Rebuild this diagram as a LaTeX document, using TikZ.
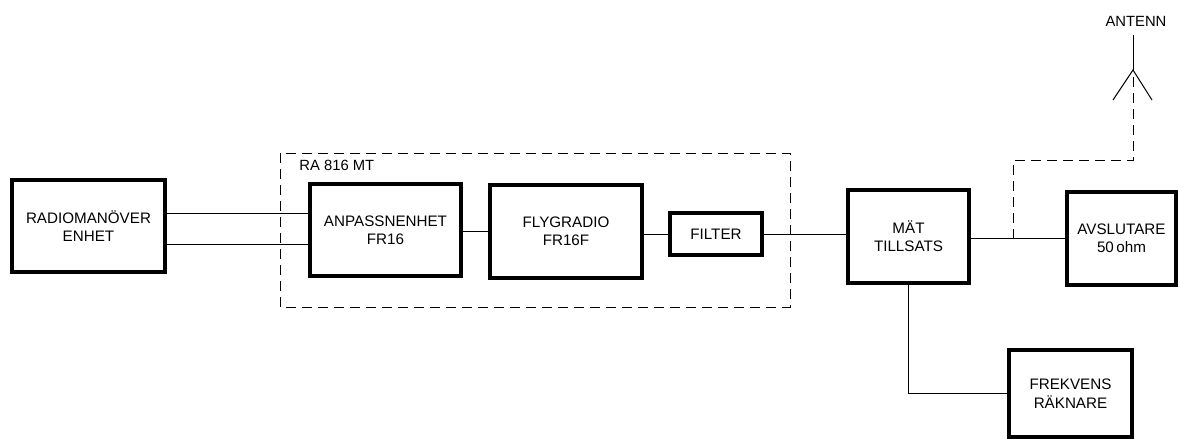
\documentclass[tikz,border=0pt]{standalone}
\usepackage{fontspec}
\setmainfont{Liberation Sans}
\begin{document}
\begin{tikzpicture}[x=0.5pt,y=-0.5pt,
  blk/.style={draw,line width=1.8pt,rectangle,inner sep=0pt,align=center,font=\fontsize{7.6}{9.2}\selectfont},
  wire/.style={line width=0.5pt},
  dwire/.style={line width=0.5pt,dash pattern=on 5pt off 3pt},
  lbl/.style={font=\fontsize{7.4}{8}\selectfont,inner sep=0pt}]
\useasboundingbox (0,0) rectangle (1180,439);
\node[blk,minimum width=76.5pt,minimum height=46pt] (rm) at (88.5,226) {RADIOMANÖVER\\ENHET};
\node[blk,minimum width=75.5pt,minimum height=46pt] (ap) at (385.5,230) {ANPASSNENHET\\FR16};
\node[blk,minimum width=76pt,minimum height=46.5pt] (fg) at (566,231.5) {FLYGRADIO\\FR16F};
\node[blk,minimum width=46pt,minimum height=21pt] (fi) at (716,234) {FILTER};
\node[blk,minimum width=60.5pt,minimum height=46.5pt] (mt) at (908.5,236.5) {MÄT\\TILLSATS};
\node[blk,minimum width=54.5pt,minimum height=46.5pt] (av) at (1121.5,238.5) {AVSLUTARE\\50\,ohm};
\node[blk,minimum width=61.5pt,minimum height=43.5pt] (fr) at (1070.5,393.5) {FREKVENS\\RÄKNARE};
% dashed enclosure
\draw[dwire] (280,153) rectangle (790,307);
\node[lbl,anchor=west] (ra) at (299,165) {RA 816 MT};
% connectors
\coordinate (ya) at (0,213);
\coordinate (yb) at (0,244);
\draw[wire] (rm.east |- ya) -- (ap.west |- ya);
\draw[wire] (rm.east |- yb) -- (ap.west |- yb);
\draw[wire] (ap.east |- fg.west) -- (fg.west);
\draw[wire] (fg.east |- fi.west) -- (fi.west);
\draw[wire] (fi.east) -- (mt.west |- fi.east);
\draw[wire] (mt.east |- av.west) -- (av.west);
\coordinate (br) at (1013,238.5);
\draw[wire] (mt.south) |- (fr.west);
% antenna
\coordinate (apex) at (1133,70);
\coordinate (atop) at (1133,35);
\coordinate (al) at (1113,100);
\coordinate (ar) at (1152,100);
\draw[dwire] (br) -- (1013,160) -- (1133,160) -- (apex);
\draw[wire] (al) -- (apex) -- (ar);
\draw[wire] (apex) -- (atop);
\node[lbl] (ant) at (1136,21) {ANTENN};
\end{tikzpicture}
\end{document}
